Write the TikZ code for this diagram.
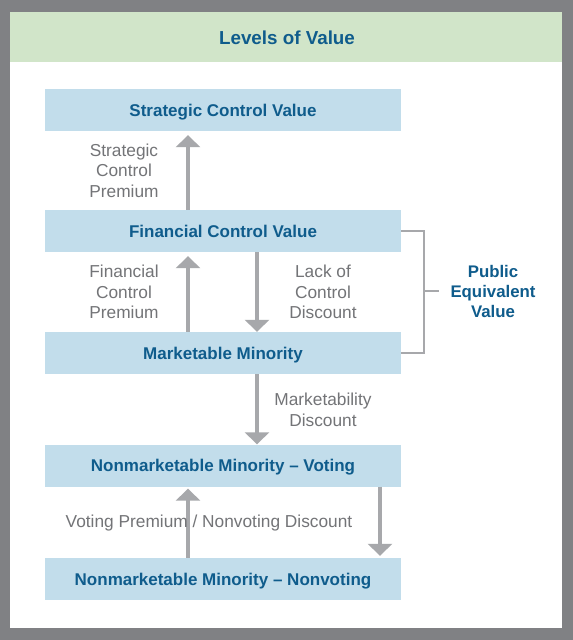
\documentclass[tikz,border=0pt]{standalone}
\usepackage{fontspec}
\setmainfont{Liberation Sans}
\usetikzlibrary{arrows.meta}
\definecolor{framegray}{HTML}{808184}
\definecolor{headgreen}{HTML}{D1E5C9}
\definecolor{boxblue}{HTML}{C2DDEB}
\definecolor{darkblue}{HTML}{0F5C8C}
\definecolor{txtgray}{HTML}{737477}
\definecolor{arrgray}{HTML}{A7A8AB}
\tikzset{
  levelbox/.style={fill=boxblue, minimum width=356pt, minimum height=42pt, inner sep=0pt,
    text depth=0pt, text=darkblue, font=\bfseries\fontsize{17}{20}\selectfont},
  grtext/.style={text=txtgray, align=center, inner sep=0pt,
    font=\fontsize{17.3}{20.5}\selectfont},
  uparr/.style={draw=arrgray, line width=4pt, -{Triangle[width=24pt,length=12pt]}, shorten >=4pt},
  dnarr/.style={draw=arrgray, line width=4pt, -{Triangle[width=24pt,length=12pt]}},
  brack/.style={draw=arrgray, line width=2pt}
}
\begin{document}
\begin{tikzpicture}[x=1pt,y=-1pt]
\useasboundingbox (0,0) rectangle (573,640);
\fill[framegray] (0,0) rectangle (573,640);
\fill[white] (10,12) rectangle (562,628);
\fill[headgreen] (10,12) rectangle (562,62);
\node[text=darkblue, text depth=0pt, font=\bfseries\fontsize{18.8}{22}\selectfont] (title) at (287,37.5) {Levels of Value};

\node[levelbox] (strat) at (223,110) {Strategic Control Value};
\node[levelbox] (fin) at (223,231) {Financial Control Value};
\node[levelbox] (mkt) at (223,353) {Marketable Minority};
\node[levelbox] (vot) at (223,465.5) {Nonmarketable Minority -- Voting};
\node[levelbox] (nonv) at (223,579) {Nonmarketable Minority -- Nonvoting};

\coordinate (ux) at (188,0);
\coordinate (dx) at (257,0);
\coordinate (vx) at (380,0);

\draw[uparr] (ux |- fin.north) -- (ux |- strat.south);
\draw[uparr] (ux |- mkt.north) -- (ux |- fin.south);
\draw[dnarr] (dx |- fin.south) -- (dx |- mkt.north);
\draw[dnarr] (dx |- mkt.south) -- (dx |- vot.north);
\draw[uparr, shorten >=2pt] (ux |- nonv.north) -- (ux |- vot.south);
\draw[dnarr, shorten >=2pt] (vx |- vot.south) -- (vx |- nonv.north);

\node[grtext] (scp) at (124,170.5) {Strategic\\Control\\Premium};
\node[grtext] (fcp) at (124,292) {Financial\\Control\\Premium};
\node[grtext] (lcd) at (323,292) {Lack of\\Control\\Discount};
\node[grtext] (md) at (323,410) {Marketability\\Discount};
\node[grtext] (vpnd) at (209,523) {Voting Premium / Nonvoting Discount};

\coordinate (bx) at (424,0);
\coordinate (tx) at (439,291);
\draw[brack] (fin.east) -- (bx |- fin.east) -- (bx |- mkt.east) -- (mkt.east);
\draw[brack] (bx |- tx) -- (tx);
\node[text=darkblue, align=center, inner sep=0pt, font=\bfseries\fontsize{16.8}{20}\selectfont] (pev) at (493,291) {Public\\Equivalent\\Value};
\end{tikzpicture}
\end{document}
